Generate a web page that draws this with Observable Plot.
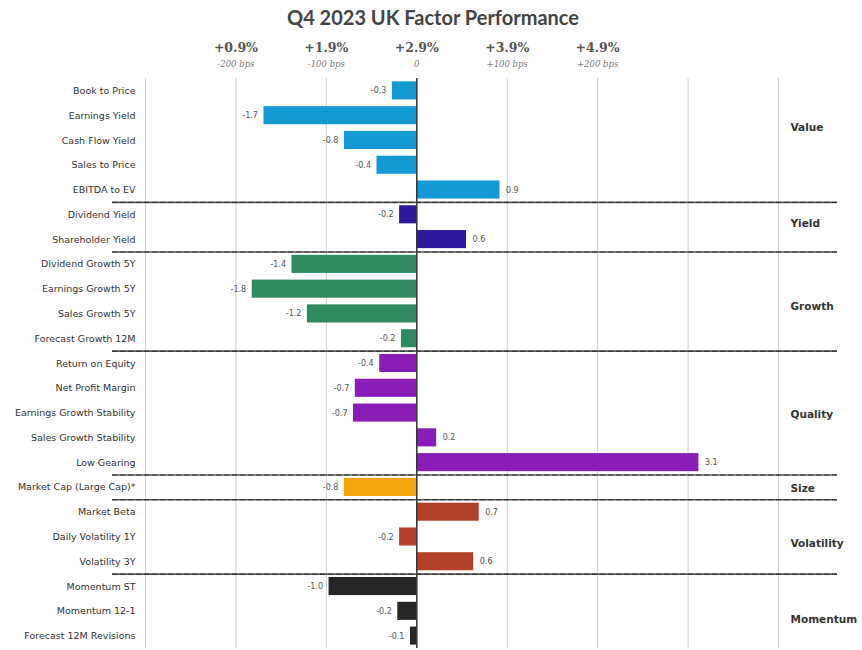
<!DOCTYPE html>
<html>
<head>
<meta charset="utf-8">
<script src="https://cdn.jsdelivr.net/npm/d3@7"></script>
<script src="https://cdn.jsdelivr.net/npm/@observablehq/plot@0.6"></script>
<style>
  body { margin: 0; background: #fff; }
  #title { box-sizing: border-box; height: 30px; padding-top: 5px; line-height: 26px; text-align: center; font: bold 20px Lato, "Open Sans", sans-serif; color: #444; padding-left: 4px; }
  #chart svg { display: block; }
</style>
</head>
<body>
<div id="title">Q4 2023 UK Factor Performance</div>
<div id="chart"></div>
<script>
const factors = [
  "Book to Price", "Earnings Yield", "Cash Flow Yield", "Sales to Price", "EBITDA to EV",
  "Dividend Yield", "Shareholder Yield",
  "Dividend Growth 5Y", "Earnings Growth 5Y", "Sales Growth 5Y", "Forecast Growth 12M",
  "Return on Equity", "Net Profit Margin", "Earnings Growth Stability", "Sales Growth Stability", "Low Gearing",
  "Market Cap (Large Cap)*",
  "Market Beta", "Daily Volatility 1Y", "Volatility 3Y",
  "Momentum ST", "Momentum 12-1", "Forecast 12M Revisions"
];
const values = [
  -0.27, -1.69, -0.80, -0.44, 0.92,
  -0.19, 0.55,
  -1.38, -1.82, -1.21, -0.17,
  -0.41, -0.68, -0.70, 0.22, 3.12,
  -0.80,
  0.69, -0.19, 0.63,
  -0.97, -0.21, -0.07
];
const groupOf = [
  "Value", "Value", "Value", "Value", "Value",
  "Yield", "Yield",
  "Growth", "Growth", "Growth", "Growth",
  "Quality", "Quality", "Quality", "Quality", "Quality",
  "Size",
  "Volatility", "Volatility", "Volatility",
  "Momentum", "Momentum", "Momentum"
];
const groups = ["Value", "Yield", "Growth", "Quality", "Size", "Volatility", "Momentum"];
const groupColors = ["#1399d3", "#2d1a9e", "#2e8b5f", "#8a1db8", "#f7a40c", "#b5402b", "#262626"];
// row each group label sits on, and its small vertical nudge (px)
const groupLabelRow = ["Earnings Yield", "Dividend Yield", "Earnings Growth 5Y", "Earnings Growth Stability", "Market Cap (Large Cap)*", "Daily Volatility 1Y", "Momentum 12-1"];
const groupLabelDy = [12, 9, 17, 2, 1, 7, 8];
const topTicks = [-2, -1, 0, 1, 2];
const topPctLabels = ["+0.9%", "+1.9%", "+2.9%", "+3.9%", "+4.9%"];
const topBpsLabels = ["-200 bps", "-100 bps", "0", "+100 bps", "+200 bps"];
const gridTicks = [-3, -2, -1, 0, 1, 2, 3, 4];

const data = factors.map((f, i) => ({factor: f, value: values[i], group: groupOf[i]}));
const firstOfGroup = groups.slice(1).map(g => factors[groupOf.indexOf(g)]);
const fmt = v => d3.format(".1f")(v).replace("\u2212", "-");

const W = 862, H = 620, MT = 48, MB = 2;
const step = (H - MT - MB) / factors.length;

const groupLabelMarks = groups.map((g, i) =>
  Plot.text([{group: g, factor: groupLabelRow[i]}], {
    y: "factor", text: "group", frameAnchor: "right", textAnchor: "start",
    dx: 12, dy: groupLabelDy[i], fontWeight: "bold", fontSize: 10.5, fill: "#333",
    fontFamily: "DejaVu Sans, sans-serif"
  })
);

const chart = Plot.plot({
  width: W,
  height: H,
  marginTop: MT,
  marginBottom: MB,
  marginLeft: 145,
  marginRight: 84,
  style: {fontFamily: "DejaVu Sans, sans-serif", background: "#fff"},
  x: {domain: [-3, 4], axis: null},
  y: {domain: factors, paddingInner: 0.27, paddingOuter: 0.135, round: false, axis: null},
  color: {domain: groups, range: groupColors},
  marks: [
    Plot.gridX(gridTicks, {stroke: "#cfcfcf", strokeOpacity: 1, strokeWidth: 1}),
    Plot.barX(data, {x: "value", y: "factor", fill: "group"}),
    Plot.ruleX([0], {stroke: "#333", strokeWidth: 1.5}),
    Plot.ruleY(firstOfGroup, {y: d => d, dy: -step / 2, stroke: "#555", strokeWidth: 1.6, insetLeft: -33, insetRight: -59}),
    Plot.ruleY(firstOfGroup, {y: d => d, dy: -step / 2, stroke: "#222", strokeWidth: 0.8, strokeDasharray: "5,3", insetLeft: -33, insetRight: -59}),
    Plot.axisY({tickSize: 0, tickPadding: 10, fontSize: 9.5, fill: "#333", label: null, style: {letterSpacing: "0.4px"}}),
    Plot.text(data.filter(d => d.value < 0), {x: "value", y: "factor", text: d => fmt(d.value), textAnchor: "end", dx: -6, fontSize: 8, fill: "#555"}),
    Plot.text(data.filter(d => d.value >= 0), {x: "value", y: "factor", text: d => fmt(d.value), textAnchor: "start", dx: 6, fontSize: 8, fill: "#555"}),
    ...groupLabelMarks,
    Plot.axisX({anchor: "top", ticks: topTicks, tickSize: 0, tickPadding: 27, tickFormat: d => topPctLabels[topTicks.indexOf(d)], fontSize: 12.5, fontWeight: "bold", fill: "#555", fontFamily: "DejaVu Serif, serif", label: null}),
    Plot.axisX({anchor: "top", ticks: topTicks, tickSize: 0, tickPadding: 12, tickFormat: d => topBpsLabels[topTicks.indexOf(d)], fontSize: 8.5, fontStyle: "italic", fill: "#777", fontFamily: "DejaVu Serif, serif", label: null})
  ]
});
document.getElementById("chart").appendChild(chart);
</script>
</body>
</html>
